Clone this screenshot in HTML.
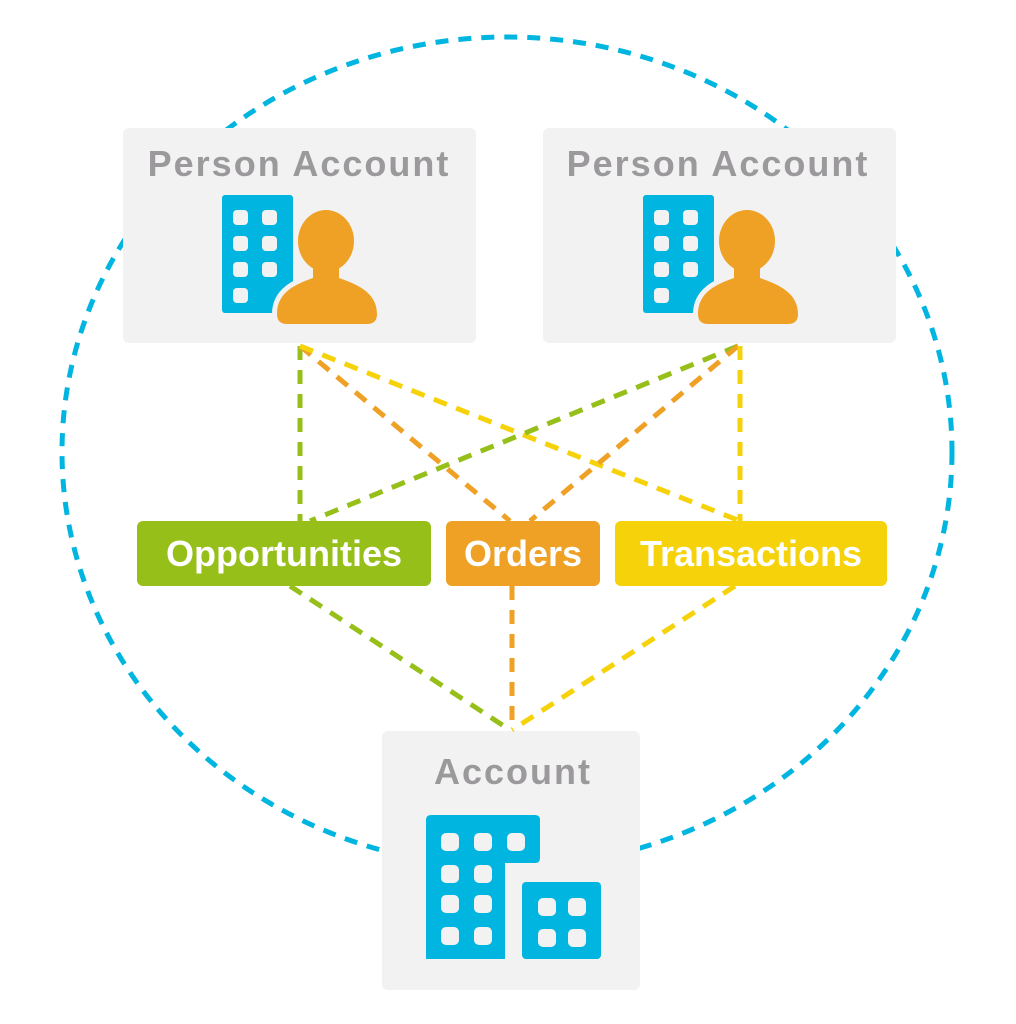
<!DOCTYPE html>
<html><head><meta charset="utf-8"><style>
html,body{margin:0;padding:0;background:#fff;}
svg{display:block;}
</style></head><body>
<svg width="1016" height="1024" viewBox="0 0 1016 1024" xmlns="http://www.w3.org/2000/svg">
<defs>
<g id="person">
  <rect x="222" y="195" width="71" height="118" rx="3" fill="#00b5df"/>
  <g fill="#f2f2f3">
    <rect x="233" y="210" width="15" height="15" rx="4"/><rect x="262" y="210" width="15" height="15" rx="4"/>
    <rect x="233" y="236" width="15" height="15" rx="4"/><rect x="262" y="236" width="15" height="15" rx="4"/>
    <rect x="233" y="262" width="15" height="15" rx="4"/><rect x="262" y="262" width="15" height="15" rx="4"/>
    <rect x="233" y="288" width="15" height="15" rx="4"/>
  </g>
  <g stroke="#f2f2f3" stroke-width="10" fill="#f2f2f3">
    <ellipse cx="326" cy="241" rx="28" ry="31"/>
    <path d="M277,314 C277,292 296,284 313,278 L313,262 L339,262 L339,278 C356,284 377,292 377,314 Q377,324 367,324 L287,324 Q277,324 277,314Z"/>
  </g>
  <g fill="#eea125">
    <ellipse cx="326" cy="241" rx="28" ry="31"/>
    <path d="M277,314 C277,292 296,284 313,278 L313,262 L339,262 L339,278 C356,284 377,292 377,314 Q377,324 367,324 L287,324 Q277,324 277,314Z"/>
  </g>
</g>
</defs>
<ellipse cx="507" cy="452" rx="445" ry="415" fill="none" stroke="#00b5df" stroke-width="5" stroke-dasharray="13 10"/>
<rect x="123" y="128" width="353" height="215" rx="6" fill="#f2f2f3"/>
<rect x="543" y="128" width="353" height="215" rx="6" fill="#f2f2f3"/>
<rect x="382" y="731" width="258" height="259" rx="6" fill="#f2f2f3"/>
<g font-family="Liberation Sans, sans-serif" font-weight="bold" fill="#9b999b" font-size="36" letter-spacing="2">
<text x="299" y="176" text-anchor="middle">Person Account</text>
<text x="718" y="176" text-anchor="middle">Person Account</text>
<text x="513" y="784" text-anchor="middle">Account</text>
</g>
<use href="#person"/>
<use href="#person" transform="translate(421,0)"/>
<path d="M431,815 H535 Q540,815 540,820 V858 Q540,863 535,863 H505 V959 H426 V820 Q426,815 431,815Z" fill="#00b5df"/>
<rect x="522" y="882" width="79" height="77" rx="4" fill="#00b5df"/>
<g fill="#f2f2f3">
<rect x="441" y="833" width="18" height="18" rx="5"/><rect x="474" y="833" width="18" height="18" rx="5"/><rect x="507" y="833" width="18" height="18" rx="5"/>
<rect x="441" y="865" width="18" height="18" rx="5"/><rect x="474" y="865" width="18" height="18" rx="5"/>
<rect x="441" y="895" width="18" height="18" rx="5"/><rect x="474" y="895" width="18" height="18" rx="5"/>
<rect x="441" y="927" width="18" height="18" rx="5"/><rect x="474" y="927" width="18" height="18" rx="5"/>
<rect x="538" y="898" width="18" height="18" rx="5"/><rect x="568" y="898" width="18" height="18" rx="5"/>
<rect x="538" y="929" width="18" height="18" rx="5"/><rect x="568" y="929" width="18" height="18" rx="5"/>
</g>
<g fill="none" stroke-width="5" stroke-dasharray="14 10">
<line x1="300" y1="346" x2="300" y2="521" stroke="#97bf1a"/>
<line x1="300" y1="346" x2="510" y2="521" stroke="#eea125"/>
<line x1="300" y1="346" x2="740" y2="521" stroke="#f5d20a"/>
<line x1="738" y1="346" x2="310" y2="521" stroke="#97bf1a"/>
<line x1="738" y1="346" x2="530" y2="521" stroke="#eea125"/>
<line x1="740" y1="346" x2="740" y2="521" stroke="#f5d20a"/>
<line x1="290" y1="586" x2="510" y2="730" stroke="#97bf1a"/>
<line x1="512" y1="586" x2="512" y2="730" stroke="#eea125"/>
<line x1="735" y1="586" x2="512" y2="730" stroke="#f5d20a"/>
</g>
<rect x="137" y="521" width="294" height="65" rx="6" fill="#97bf1a"/>
<rect x="446" y="521" width="154" height="65" rx="6" fill="#eea125"/>
<rect x="615" y="521" width="272" height="65" rx="6" fill="#f5d20a"/>
<g font-family="Liberation Sans, sans-serif" font-weight="bold" fill="#fff" font-size="36" text-anchor="middle">
<text x="284" y="566">Opportunities</text>
<text x="523" y="566">Orders</text>
<text x="751" y="566">Transactions</text>
</g>
</svg>
</body></html>
